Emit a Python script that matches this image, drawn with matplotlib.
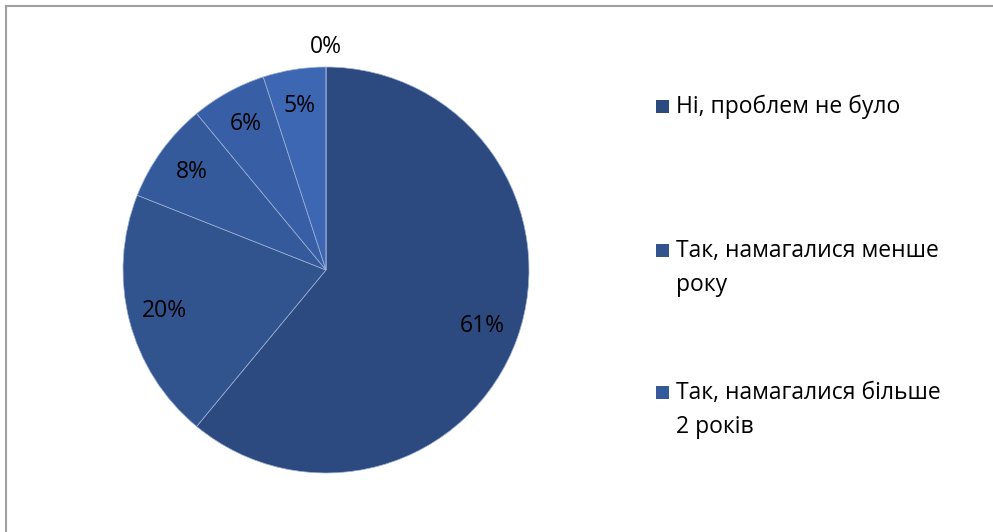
import matplotlib
matplotlib.use("Agg")
import matplotlib.pyplot as plt
from matplotlib.patches import Rectangle
from matplotlib.lines import Line2D
import numpy as np

plt.rcParams['font.family'] = ['Open Sans', 'DejaVu Sans']

# Survey shares (%), clockwise from 12 o'clock
values = [61, 20, 8, 6, 5, 0]
pct_labels = ["61%", "20%", "8%", "6%", "5%", "0%"]
legend_labels = ["Ні, проблем не було",
                 "Так, намагалися менше\nроку",
                 "Так, намагалися більше\n2 років"]
colors = ["#2C4A7F", "#31548F", "#345A9B", "#385FA6", "#3D66B3", "#4270BF"]

W, H = 993, 532
FS = 16.5

fig = plt.figure(figsize=(W / 100, H / 100), dpi=100)
ax = fig.add_axes([123 / W, 59 / H, 406 / W, 406 / H])

wedges, _ = ax.pie(values, colors=colors, startangle=90, counterclock=False,
                   radius=1.0, wedgeprops=dict(edgecolor="#9FB3D9", linewidth=0.5))
ax.set_xlim(-1, 1)
ax.set_ylim(-1, 1)
ax.set_aspect("equal")
ax.axis("off")

# percentage labels at each wedge's mid-angle
for w, lab, v in zip(wedges, pct_labels, values):
    mid = np.deg2rad((w.theta1 + w.theta2) / 2)
    d = 0.82 if v > 0 else 1.10
    ax.text(d * np.cos(mid), d * np.sin(mid), lab, ha="center", va="center",
            fontsize=FS, color="black", clip_on=False)

# legend: square marker aligned with the first line of each entry
legend_base = [113, 257, 399]   # baseline of first line, px from top
line_step = 34
for lab, c, yb in zip(legend_labels, colors, legend_base):
    fig.patches.append(Rectangle((656 / W, 1 - 113 / H + (113 - yb) / H), 13 / W, 13 / H,
                                 transform=fig.transFigure, facecolor=c,
                                 edgecolor="none"))
    for i, line in enumerate(lab.split("\n")):
        fig.text(676 / W, 1 - (yb + i * line_step) / H, line, ha="left",
                 va="baseline", fontsize=FS, color="black")

# chart area frame (top and left edges)
fig.add_artist(Line2D([6 / W, 1], [1 - 6 / H, 1 - 6 / H],
                      transform=fig.transFigure, color="#A0A0A0", lw=1.5))
fig.add_artist(Line2D([6 / W, 6 / W], [0, 1 - 6 / H],
                      transform=fig.transFigure, color="#A0A0A0", lw=1.5))

fig.savefig("out.png", dpi=100)
